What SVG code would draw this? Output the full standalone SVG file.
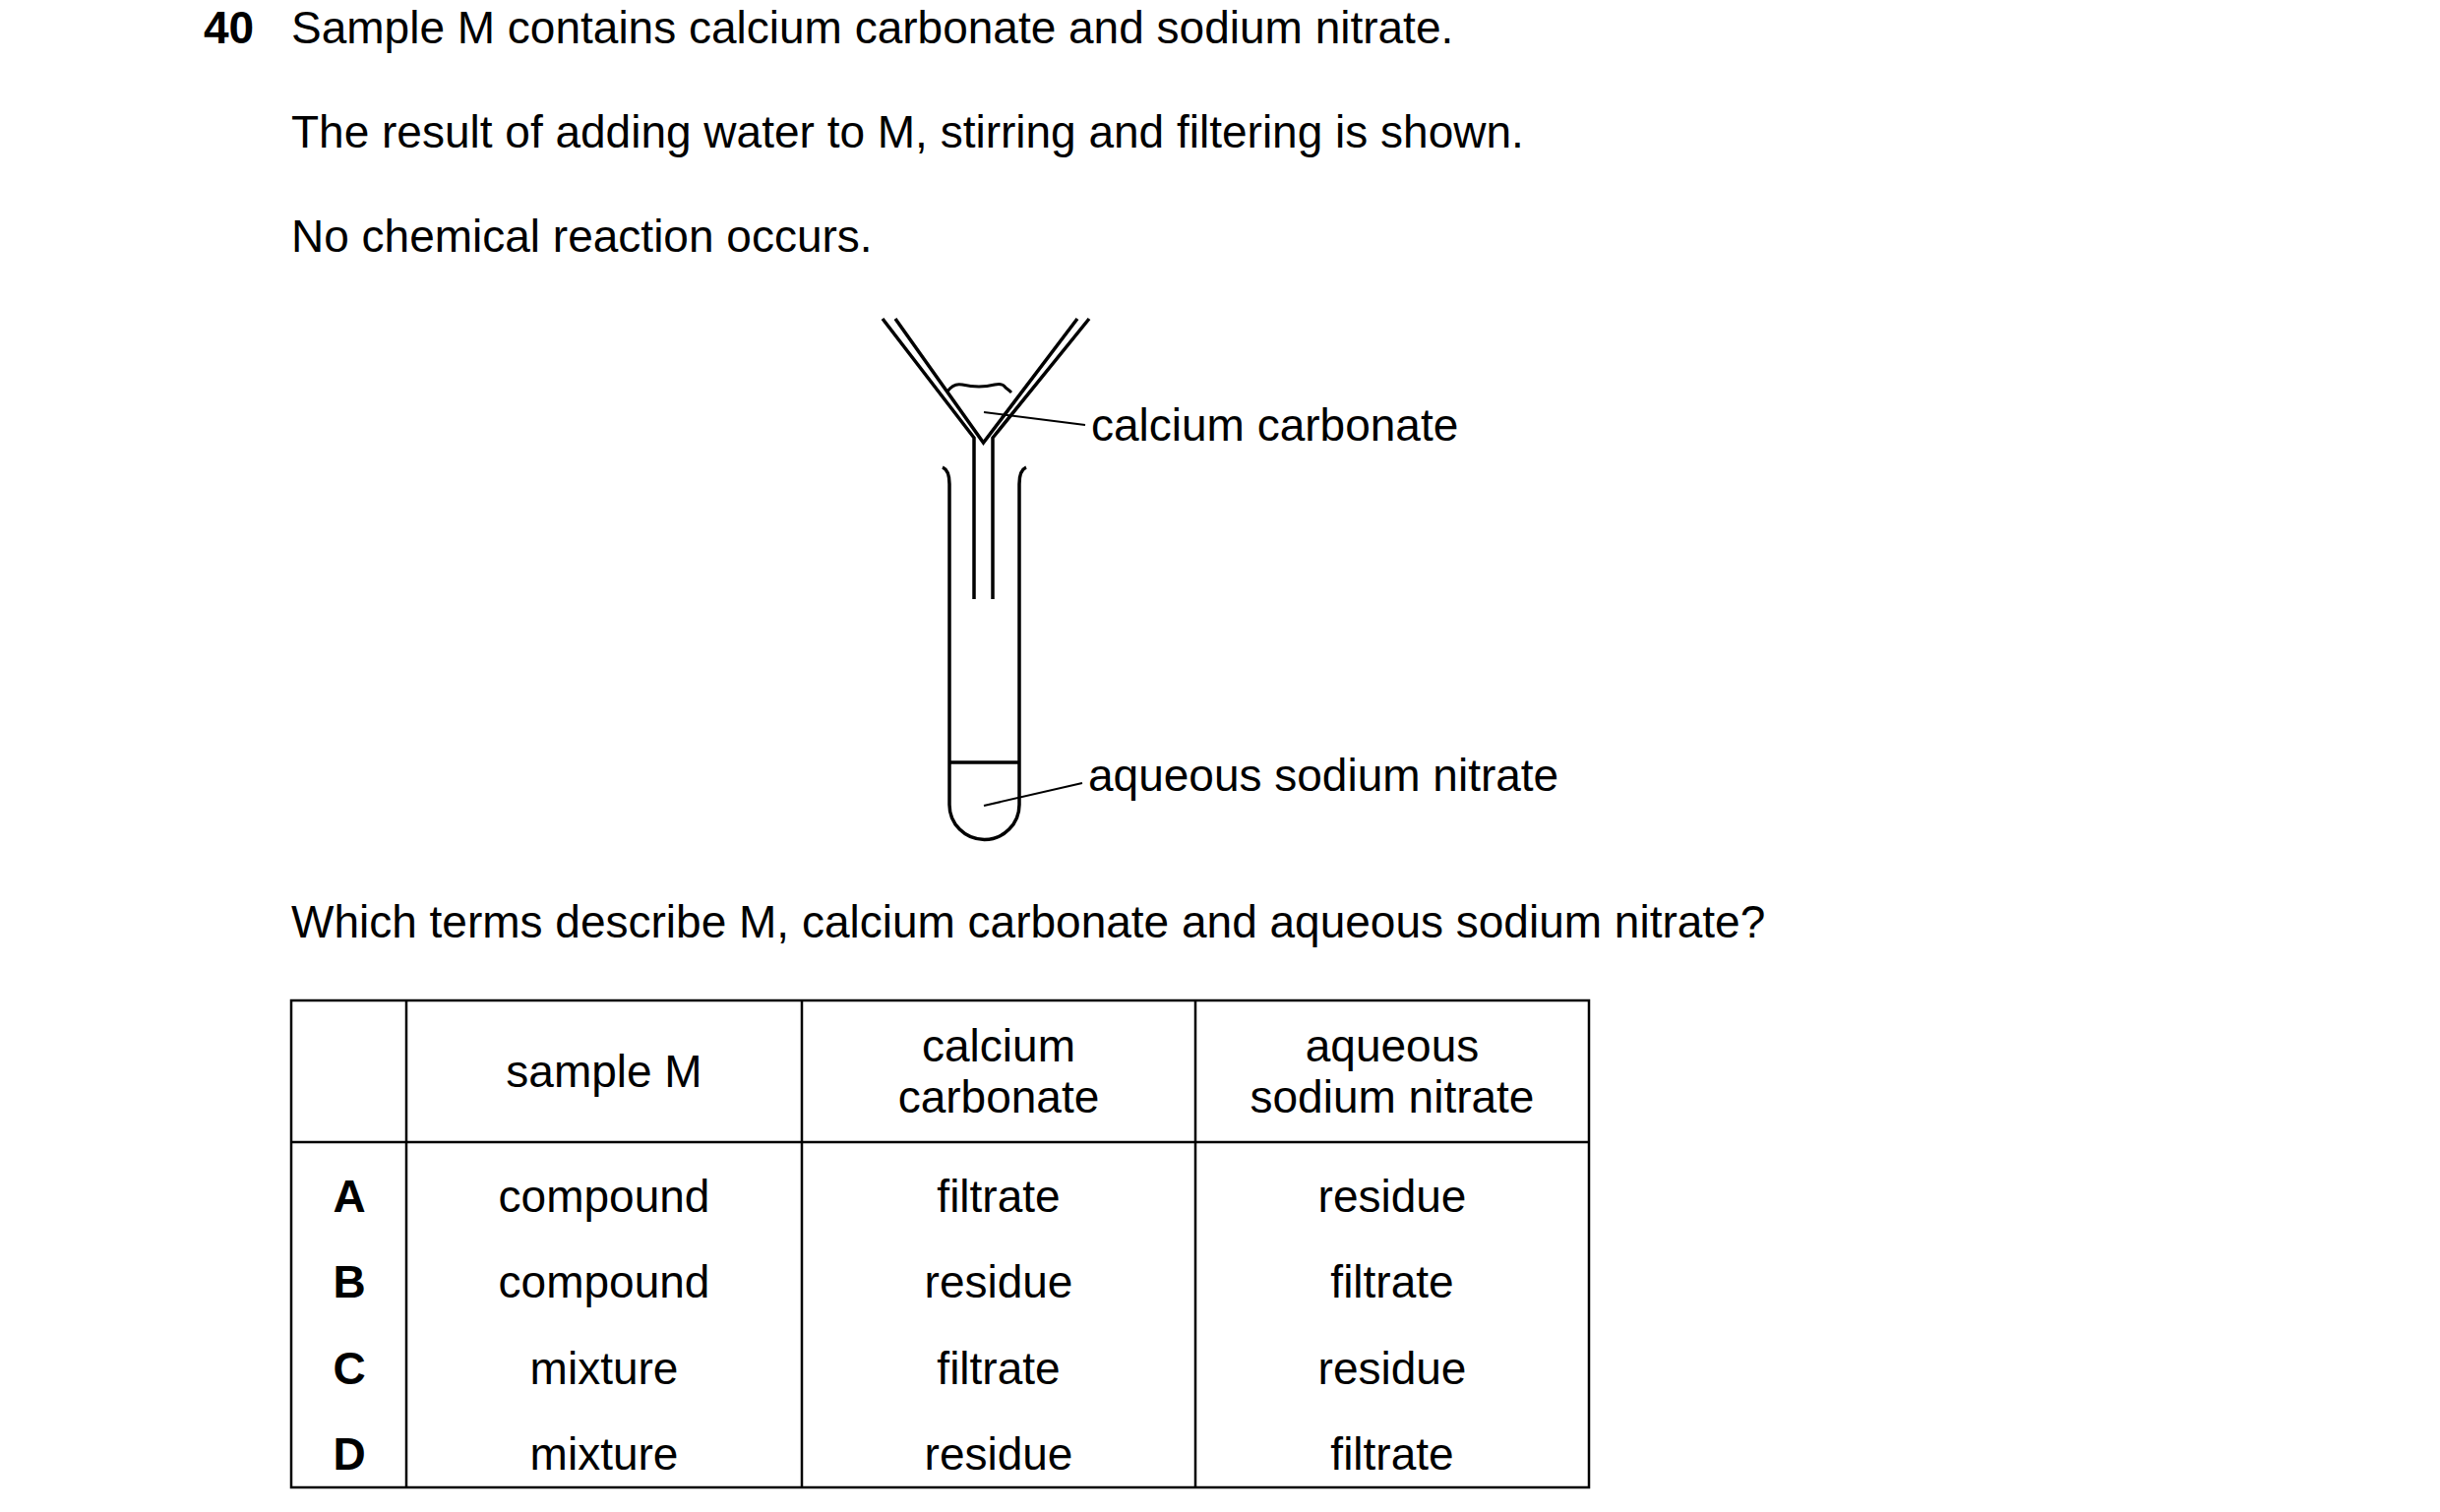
<svg xmlns="http://www.w3.org/2000/svg" width="2480" height="1537" viewBox="0 0 2480 1537">
<style>
text{font-family:"Liberation Sans",Arial,sans-serif;font-size:46px;fill:#000}
.b{font-weight:bold}
.c{text-anchor:middle}
.l{fill:none;stroke:#000;stroke-width:3.5;stroke-linecap:butt;stroke-linejoin:miter}
.t{fill:none;stroke:#000;stroke-width:2.5}
.ld{stroke:#000;stroke-width:2}
</style>
<rect width="2480" height="1537" fill="#fff"/>
<g id="text">
<text x="207" y="44" class="b">40</text>
<text x="296" y="44">Sample M contains calcium carbonate and sodium nitrate.</text>
<text x="296" y="150">The result of adding water to M, stirring and filtering is shown.</text>
<text x="296" y="256">No chemical reaction occurs.</text>
<text x="296" y="953">Which terms describe M, calcium carbonate and aqueous sodium nitrate?</text>
</g>
<g id="apparatus">
<path class="l" d="M897,324 L990,445 L990,609"/>
<path class="l" d="M910,324 L999.5,450 L1095,324"/>
<path class="l" d="M1107,324 L1009,445 L1009,609"/>
<path class="l" style="stroke-width:3" d="M963,398 Q969,389 978,391 T995,393 T1011,391 T1022,394 Q1026,397 1028,399"/>
<path class="l" d="M958,475 Q965,478 965,492 L965,818 A35.5,35.5 0 0 0 1036,818 L1036,492 Q1036,478 1043,475"/>
<line class="l" x1="965" y1="775" x2="1036" y2="775"/>
</g>
<g id="connectors">
<line class="ld" x1="1000" y1="419" x2="1103" y2="432"/>
<line class="ld" x1="1000" y1="819" x2="1100" y2="796"/>
</g>
<g id="labels">
<text x="1109" y="448">calcium carbonate</text>
<text x="1106" y="804">aqueous sodium nitrate</text>
</g>
<g id="table">
<rect class="t" x="296" y="1017" width="1319" height="495"/>
<line class="t" x1="413" y1="1017" x2="413" y2="1512"/>
<line class="t" x1="815" y1="1017" x2="815" y2="1512"/>
<line class="t" x1="1215" y1="1017" x2="1215" y2="1512"/>
<line class="t" x1="296" y1="1161" x2="1615" y2="1161"/>
<text x="614" y="1105" class="c">sample M</text>
<text x="1015" y="1079" class="c">calcium</text>
<text x="1015" y="1131" class="c">carbonate</text>
<text x="1415" y="1079" class="c">aqueous</text>
<text x="1415" y="1131" class="c">sodium nitrate</text>
<text x="355" y="1232" class="c b">A</text>
<text x="614" y="1232" class="c">compound</text>
<text x="1015" y="1232" class="c">filtrate</text>
<text x="1415" y="1232" class="c">residue</text>
<text x="355" y="1319" class="c b">B</text>
<text x="614" y="1319" class="c">compound</text>
<text x="1015" y="1319" class="c">residue</text>
<text x="1415" y="1319" class="c">filtrate</text>
<text x="355" y="1407" class="c b">C</text>
<text x="614" y="1407" class="c">mixture</text>
<text x="1015" y="1407" class="c">filtrate</text>
<text x="1415" y="1407" class="c">residue</text>
<text x="355" y="1494" class="c b">D</text>
<text x="614" y="1494" class="c">mixture</text>
<text x="1015" y="1494" class="c">residue</text>
<text x="1415" y="1494" class="c">filtrate</text>
</g>
</svg>
